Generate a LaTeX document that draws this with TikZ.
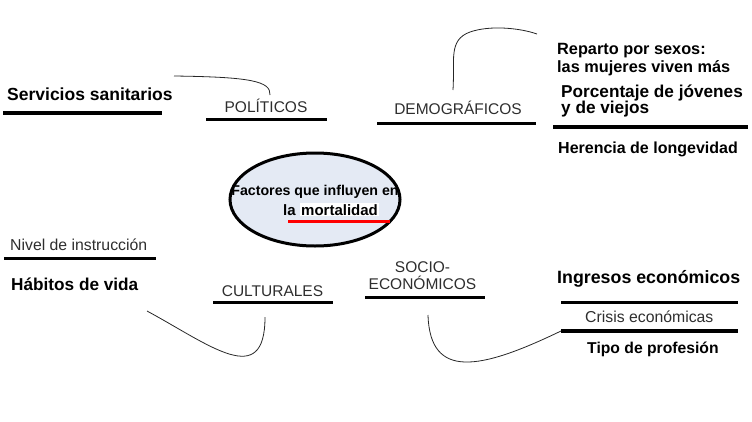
\documentclass[tikz,border=0pt]{standalone}
\usepackage{fontspec}
\setmainfont{Liberation Sans}
\usepackage{tikz}
\usetikzlibrary{shapes.geometric}
\definecolor{elfill}{HTML}{E4EAF4}
\definecolor{catgray}{HTML}{2E2E2E}

\begin{document}
\begin{tikzpicture}[x=1pt,y=-1pt]
\tikzstyle{cat}=[inner sep=0pt,anchor=base,text=catgray,font=\fontsize{15.5}{18}\selectfont]
\tikzstyle{big}=[inner sep=0pt,anchor=base west,font=\bfseries\fontsize{17.5}{18}\selectfont]
\tikzstyle{mid}=[inner sep=0pt,anchor=base west,font=\bfseries\fontsize{16.3}{18}\selectfont]
\tikzstyle{thin}=[inner sep=0pt,anchor=base west,text=catgray,font=\fontsize{15.8}{18}\selectfont]
\tikzstyle{bar}=[line width=3.5pt]
\tikzstyle{link}=[line width=0.8pt,black!85]
\useasboundingbox (0,0) rectangle (752,421);

% centre
\node[ellipse,draw,line width=3pt,fill=elfill,minimum width=170,minimum height=93] (core) at (315,199.5) {};
\node[inner sep=0pt,anchor=base,font=\bfseries\fontsize{14.2}{16}\selectfont] (t1) at (315,195.5) {Factores que influyen en};
\node[inner sep=0pt,anchor=base west,font=\bfseries\fontsize{15}{16}\selectfont] (t2) at (283,215) {la};
\node[inner sep=1pt,anchor=base west,fill=white,font=\bfseries\fontsize{15}{16}\selectfont] (t3) at (300,215) {mortalidad};
\draw[red,line width=3pt] (288,221.7) -- (390,221.7);

% politicos
\node[cat] (pol) at (266,112) {POLÍTICOS};
\draw[bar] (206,119.5) -- (327,119.5);
\node[big] (serv) at (7,100) {Servicios sanitarios};
\draw[bar] (3,113) -- (162,113);
\coordinate (p1) at (174,76);
\coordinate (p2) at (270,95);
\draw[link] (p1) .. controls (250,77) and (271,81) .. (p2);

% demograficos
\node[cat] (dem) at (458,114) {DEMOGRÁFICOS};
\draw[bar] (377,123.3) -- (536,123.3);
\node[mid] (rep1) at (557,54) {Reparto por sexos:};
\node[mid] (rep2) at (557,72) {las mujeres viven más};
\node[mid,font=\bfseries\fontsize{17.2}{18}\selectfont] (por1) at (561,97) {Porcentaje de jóvenes};
\node[mid,font=\bfseries\fontsize{17.2}{18}\selectfont] (por2) at (561,113.5) {y de viejos};
\draw[bar] (553,127) -- (748,127);
\node[mid,font=\bfseries\fontsize{16}{18}\selectfont] (her) at (558,153) {Herencia de longevidad};
\coordinate (d1) at (453,90);
\coordinate (d2) at (537,34);
\draw[link] (d1) .. controls (455,60) and (448,40) .. (470,32) .. controls (490,25) and (520,28) .. (d2);

% culturales
\node[thin] (niv) at (10,250) {Nivel de instrucción};
\draw[bar,line width=3pt] (4,258) -- (156,258);
\node[big,font=\bfseries\fontsize{17.2}{18}\selectfont] (hab) at (11,290) {Hábitos de vida};
\node[cat] (cul) at (272.5,296) {CULTURALES};
\draw[bar] (213,302.7) -- (333,302.7);
\coordinate (c1) at (147,311);
\coordinate (c2) at (265,317);
\draw[link] (c1) .. controls (210,345) and (265,390) .. (c2);

% socioeconomicos
\node[cat] (soc1) at (422.5,272) {SOCIO-};
\node[cat] (soc2) at (422.5,289) {ECONÓMICOS};
\draw[bar] (365,297.7) -- (485,297.7);
\node[big,font=\bfseries\fontsize{17.8}{18}\selectfont] (ing) at (557,283) {Ingresos económicos};
\draw[bar] (561,302.7) -- (738,302.7);
\node[thin] (cri) at (585,322.7) {Crisis económicas};
\coordinate (s2) at (561,331);
\draw[bar] (s2) -- (738,331);
\node[mid,font=\bfseries\fontsize{15.7}{18}\selectfont] (tip) at (587,353) {Tipo de profesión};
\coordinate (s1) at (428,315);
\draw[link] (s1) .. controls (430,380) and (480,370) .. (s2);
\end{tikzpicture}
\end{document}
